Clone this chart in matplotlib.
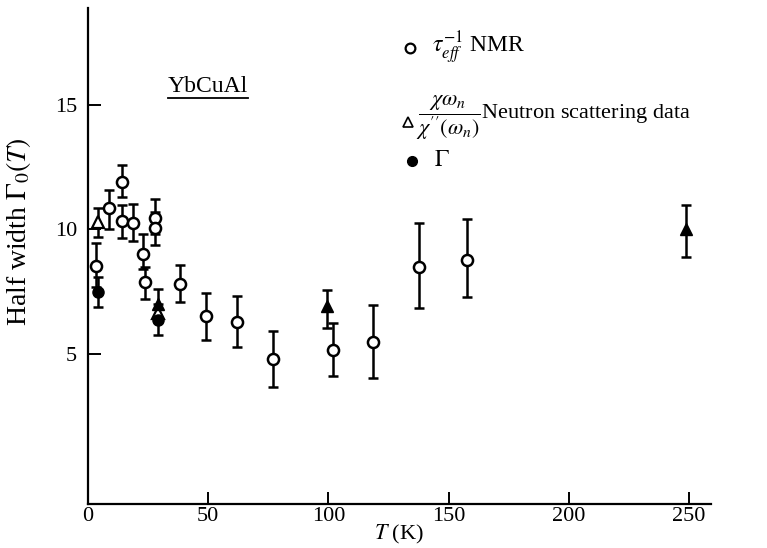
import matplotlib
matplotlib.use("Agg")
import matplotlib.pyplot as plt
import numpy as np
from matplotlib.lines import Line2D

plt.rcParams["font.family"] = ["Liberation Serif", "DejaVu Serif"]
plt.rcParams["mathtext.fontset"] = "stix"

# NMR relaxation rate: T (K), half width, upper / lower error
nmr_T = [3.5, 8.9, 14.0, 14.0, 18.8, 23.0, 23.7, 27.9, 27.9, 38.3, 49.1,
         61.8, 76.8, 102.0, 118.6, 137.6, 157.7]
nmr_G = [8.55, 10.85, 11.9, 10.35, 10.25, 9.03, 7.9, 10.45, 10.05, 7.8, 6.5,
         6.28, 4.8, 5.15, 5.46, 8.48, 8.79]
nmr_up = [0.89, 0.72, 0.70, 0.65, 0.78, 0.77, 0.60, 0.76, 0.65, 0.76, 0.93,
          1.03, 1.13, 1.09, 1.52, 1.79, 1.65]
nmr_dn = [0.85, 0.85, 0.60, 0.69, 0.72, 0.63, 0.68, 0.65, 0.68, 0.73, 0.96,
          0.99, 1.14, 1.06, 1.44, 1.65, 1.49]

# neutron scattering (open and solid triangles)
neut_open_T = [4.0, 29.0]
neut_open_G = [10.3, 6.64]
neut_open_up = [0.55, 0.0]
neut_open_dn = [0.60, 0.0]
neut_solid_T = [29.0, 99.5, 248.6]
neut_solid_G = [7.0, 6.91, 10.0]
neut_solid_up = [0.59, 0.67, 1.0]
neut_solid_dn = [0.0, 0.87, 1.12]

# Gamma from fit
gam_T = [4.3, 29.0]
gam_G = [7.5, 6.36]
gam_up = [0.57, 0.0]
gam_dn = [0.60, 0.62]

x_ticks = [0, 50, 100, 150, 200, 250]
y_ticks = [5, 10, 15]

fig = plt.figure(figsize=(7.67, 5.48), dpi=100)
ax = fig.add_axes([0.1147, 0.08, 0.812, 0.905])
ax.set_xlim(0, 259)
ax.set_ylim(-1.05, 18.9)

for s in ["top", "right"]:
    ax.spines[s].set_visible(False)
for s in ["left", "bottom"]:
    ax.spines[s].set_linewidth(1.6)

bar_kw = dict(fmt="none", ecolor="black", elinewidth=1.8, capsize=3.5, capthick=1.8, zorder=2)


def bars(T, G, up, dn):
    T, G, up, dn = map(np.asarray, (T, G, up, dn))
    keep = (up + dn) > 0
    ax.errorbar(T[keep], G[keep], yerr=[dn[keep], up[keep]], **bar_kw)


bars(nmr_T, nmr_G, nmr_up, nmr_dn)
bars(neut_open_T, neut_open_G, neut_open_up, neut_open_dn)
bars(neut_solid_T, neut_solid_G, neut_solid_up, neut_solid_dn)
bars(gam_T, gam_G, gam_up, gam_dn)

ax.plot(nmr_T, nmr_G, "o", ms=8, mfc="white", mec="black", mew=1.8, zorder=3)
ax.plot(neut_open_T, neut_open_G, "^", ms=9, mfc="white", mec="black", mew=1.6, zorder=3)
ax.plot(neut_solid_T, neut_solid_G, "^", ms=9, mfc="black", mec="black", zorder=4)
ax.plot(gam_T, gam_G, "o", ms=8, mfc="black", mec="black", zorder=4)

ax.set_xticks(x_ticks)
ax.set_yticks(y_ticks)
ax.tick_params(axis="both", direction="in", length=9, width=1.4, labelsize=16)
ax.tick_params(axis="x", pad=2)
ax.tick_params(axis="y", pad=8)
ax.set_xlabel(r"$T$ (K)", fontsize=16, labelpad=-2)
ax.set_ylabel(r"Half width $\mathit{\Gamma}_0(T)$", fontsize=20)
ax.yaxis.set_label_coords(-0.088, 0.55)


def fx(px):
    return px / 767


def fy(py):
    return 1 - py / 548


fig.text(fx(208), fy(86), "YbCuAl", fontsize=17, ha="center", va="center")
fig.add_artist(Line2D([fx(168), fx(248)], [fy(98), fy(98)], color="black", lw=1.3))

# key
fig.add_artist(Line2D([fx(410)], [fy(48)], marker="o", ms=7, mfc="white", mec="black", mew=1.6))
fig.add_artist(Line2D([fx(408)], [fy(122)], marker="^", ms=7, mfc="white", mec="black", mew=1.2))
fig.add_artist(Line2D([fx(412)], [fy(161)], marker="o", ms=7, mfc="black", mec="black"))
fig.text(fx(432), fy(48), r"$\tau_{eff}^{-1}$ NMR", fontsize=17, va="center")
fig.text(fx(416), fy(118), r"$\dfrac{\chi\omega_n}{\chi''(\omega_n)}$Neutron scattering data",
         fontsize=16, va="center")
fig.text(fx(434), fy(160), r"$\mathit{\Gamma}$", fontsize=17, va="center")

fig.savefig("out.png", dpi=100)
